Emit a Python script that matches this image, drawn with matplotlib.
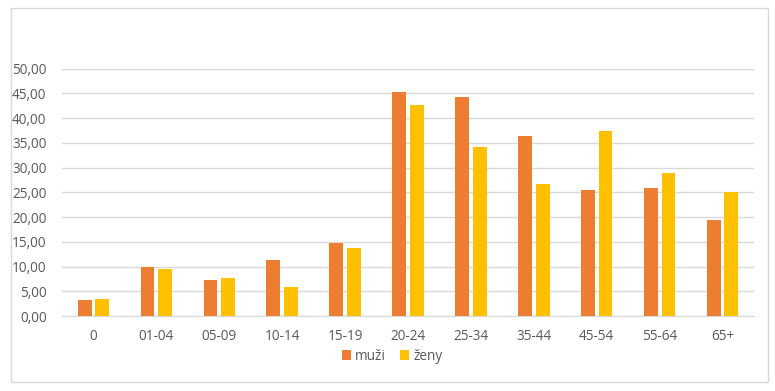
import numpy as np
import matplotlib
matplotlib.use('Agg')
import matplotlib.pyplot as plt
from matplotlib.patches import Rectangle
from matplotlib.ticker import FuncFormatter

# Věkové skupiny a hodnoty
kategorie = ['0', '01-04', '05-09', '10-14', '15-19', '20-24', '25-34', '35-44', '45-54', '55-64', '65+']
muzi = [3.3, 10.0, 7.2, 11.3, 14.7, 45.2, 44.3, 36.4, 25.4, 25.9, 19.5]
zeny = [3.4, 9.6, 7.6, 5.9, 13.8, 42.7, 34.2, 26.6, 37.5, 28.9, 25.1]

plt.rcParams['font.family'] = ['Open Sans', 'DejaVu Sans']

fig = plt.figure(figsize=(7.75, 3.91), dpi=100)
ax = fig.add_axes([62 / 775, 1 - 316 / 391, (754 - 62) / 775, (316 - 68.7) / 391])

x = np.arange(len(kategorie))
sirka = 0.22
ax.bar(x - 0.14, muzi, sirka, color='#ED7D31', label='muži', zorder=3)
ax.bar(x + 0.14, zeny, sirka, color='#FFC000', label='ženy', zorder=3)

ax.set_xlim(-0.5, len(kategorie) - 0.5)
ax.set_ylim(0, 50)
ax.set_yticks(np.arange(0, 51, 5))
ax.yaxis.set_major_formatter(FuncFormatter(lambda v, p: f'{v:.2f}'.replace('.', ',')))
ax.set_xticks(x)
ax.set_xticklabels(kategorie)
ax.grid(axis='y', color='#D9D9D9', linewidth=1, zorder=0)
for s in ['top', 'right', 'left']:
    ax.spines[s].set_visible(False)
ax.spines['bottom'].set_color('#D9D9D9')
ax.tick_params(axis='both', length=0, colors='#595959', labelsize=9.8)
ax.tick_params(axis='x', pad=9)
ax.tick_params(axis='y', pad=11)

fig.legend(loc='center', bbox_to_anchor=(392 / 775, 1 - 356 / 391), ncol=2, frameon=False,
           fontsize=9.8, handlelength=0.7, handleheight=0.7, handletextpad=0.3, columnspacing=1.0,
           labelcolor='#595959')

# rámeček kolem grafu
fig.patches.append(Rectangle((11 / 775, 1 - 382 / 391), (768 - 11) / 775, (382 - 8) / 391,
                             transform=fig.transFigure, fill=False, edgecolor='#D9D9D9', linewidth=1))

fig.savefig('out.png', dpi=100, facecolor='white')
